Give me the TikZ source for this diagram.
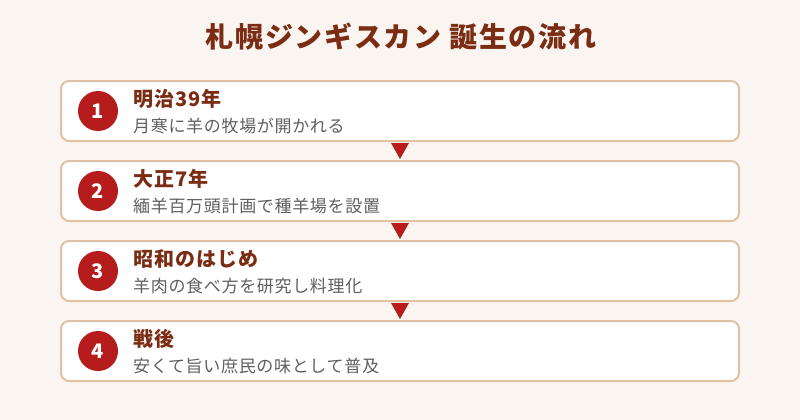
\documentclass[tikz,border=0pt]{standalone}
\usepackage{fontspec}
\usepackage{xcolor}
\setmainfont{Noto Sans CJK JP}
\newfontfamily\titlefont{Noto Sans CJK JP}[LetterSpace=6]
\newfontfamily\headfont{Noto Sans CJK JP}[LetterSpace=5]
\newfontfamily\subfont{Noto Sans CJK JP}[LetterSpace=4]
\definecolor{bgcol}{HTML}{FBF5F1}
\definecolor{titlecol}{HTML}{7B2D14}
\definecolor{edgecol}{HTML}{E0C2A2}
\definecolor{dotcol}{HTML}{B71C1C}
\definecolor{subcol}{HTML}{5F5F5F}
\tikzset{
  stepbox/.style = {draw=edgecol, line width=2pt, fill=white, rounded corners=8pt,
    minimum width=678pt, minimum height=60pt, inner sep=0pt},
  numdot/.style = {circle, fill=dotcol, text=white, minimum size=40pt, inner sep=0pt,
    font=\bfseries\fontsize{20}{22}\selectfont},
  headtext/.style = {anchor=west, inner sep=0pt, text=titlecol,
    font=\headfont\bfseries\fontsize{20}{22}\selectfont},
  subtext/.style = {anchor=west, inner sep=0pt, text=subcol,
    font=\subfont\fontsize{17}{19}\selectfont},
  arrowtri/.style = {fill=dotcol}
}

\begin{document}
\begin{tikzpicture}[x=1pt, y=-1pt]
        \fill[bgcol] (0, 0) rectangle (800, 420);
        \node[text=titlecol, font=\titlefont\bfseries\fontsize{28}{32}\selectfont] (title) at (401, 37) {札幌ジンギスカン 誕生の流れ};
        % steps
        \node[stepbox] (s1) at (400, 111) {};
        \node[stepbox] (s2) at (400, 191) {};
        \node[stepbox] (s3) at (400, 271) {};
        \node[stepbox] (s4) at (400, 351) {};
        \node[numdot] (n1) at (98, 111) {1};
        \node[numdot] (n2) at (98, 191) {2};
        \node[numdot] (n3) at (98, 271) {3};
        \node[numdot] (n4) at (98, 351) {4};
        \node[headtext] (h1) at (133, 99) {明治39年};
        \node[subtext] (d1) at (133, 126) {月寒に羊の牧場が開かれる};
        \node[headtext] (h2) at (133, 179) {大正7年};
        \node[subtext] (d2) at (133, 206) {緬羊百万頭計画で種羊場を設置};
        \node[headtext] (h3) at (133, 259) {昭和のはじめ};
        \node[subtext] (d3) at (133, 286) {羊肉の食べ方を研究し料理化};
        \node[headtext] (h4) at (133, 339) {戦後};
        \node[subtext] (d4) at (133, 366) {安くて旨い庶民の味として普及};
        % arrows between steps
        \fill[arrowtri] ([xshift=-9pt, yshift=-1pt]s1.south) -- ([xshift=9pt, yshift=-1pt]s1.south) -- ([yshift=1pt]s2.north) -- cycle;
        \fill[arrowtri] ([xshift=-9pt, yshift=-1pt]s2.south) -- ([xshift=9pt, yshift=-1pt]s2.south) -- ([yshift=1pt]s3.north) -- cycle;
        \fill[arrowtri] ([xshift=-9pt, yshift=-1pt]s3.south) -- ([xshift=9pt, yshift=-1pt]s3.south) -- ([yshift=1pt]s4.north) -- cycle;
    \end{tikzpicture}
\end{document}
